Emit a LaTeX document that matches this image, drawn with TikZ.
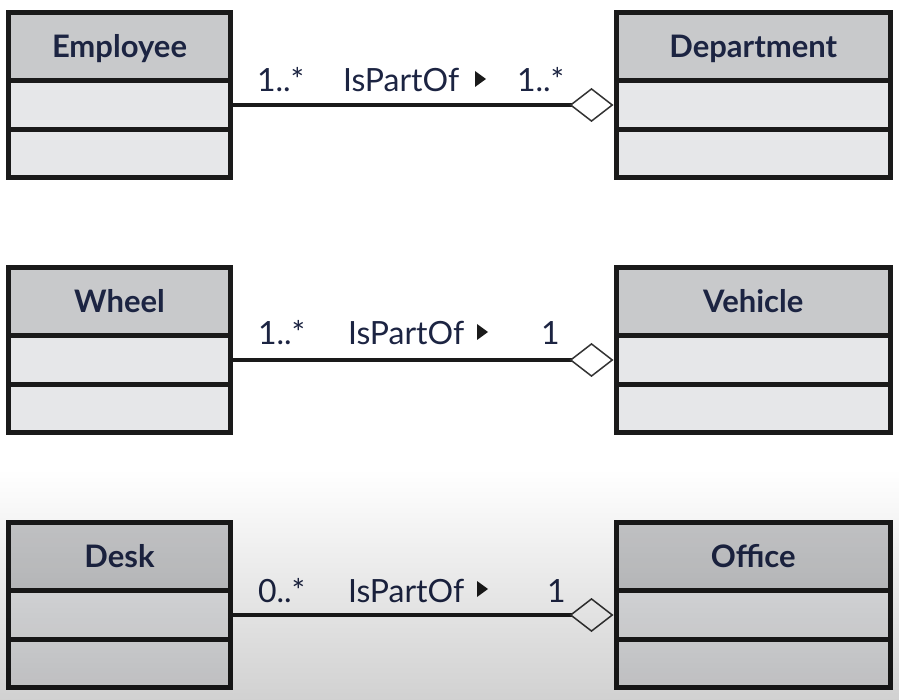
\documentclass[tikz,border=0pt]{standalone}
\usepackage{fontspec}
\setmainfont{Lato}
\usetikzlibrary{arrows.meta,fadings}
\definecolor{hdr}{HTML}{C8C9CB}
\definecolor{cmp}{HTML}{E6E7E9}
\definecolor{ink}{HTML}{1C2442}
\definecolor{edge}{HTML}{1A1A1A}
\definecolor{dia}{HTML}{333333}
\tikzfading[name=fadedown, top color=transparent!100, bottom color=transparent!0]
\tikzset{
  header/.style={draw=edge, line width=5pt, fill=hdr, anchor=north west, inner sep=0pt, outer sep=0pt,
    minimum height=68pt, font=\bfseries\fontsize{31}{31}\selectfont, text=ink, text height=22pt, text depth=0pt},
  comp/.style={draw=edge, line width=5pt, fill=cmp, anchor=north west, inner sep=0pt, outer sep=0pt},
  lbl/.style={anchor=base west, inner sep=0pt, outer sep=0pt, font=\fontsize{32}{32}\selectfont, text=ink},
  assoc/.style={draw=edge, line width=3.5pt, shorten >=2.5pt,
    -{Diamond[fill=white, color=dia, length=44pt, width=34pt, line width'=1.5pt]}},
  rdir/.style={fill=edge}
}
\begin{document}
\begin{tikzpicture}[x=1pt,y=1pt]
\useasboundingbox (0,0) rectangle (900,-700);
\fill[white] (0,0) rectangle (900,-700);

% Row 1
\node[header, minimum width=222pt] (emp) at (8.5,-12.5) {Employee};
\node[comp, minimum width=222pt, minimum height=49pt] (emp1) at (8.5,-80.5) {};
\node[comp, minimum width=222pt, minimum height=48pt] (emp2) at (8.5,-129.5) {};
\node[header, minimum width=274.5pt] (dep) at (616,-12.5) {Department};
\node[comp, minimum width=274.5pt, minimum height=49pt] (dep1) at (616,-80.5) {};
\node[comp, minimum width=274.5pt, minimum height=48pt] (dep2) at (616,-129.5) {};
\draw[assoc] (emp1.east) -- (dep1.west);
\node[lbl] (m1a) at (257,-92) {1..*};
\node[lbl] (r1) at (343,-92) {IsPartOf};
\fill[rdir] (475,-71) -- (486,-79) -- (475,-87) -- cycle;
\node[lbl] (m1b) at (517,-92) {1..*};

% Row 2
\node[header, minimum width=222pt] (whl) at (8.5,-267.5) {Wheel};
\node[comp, minimum width=222pt, minimum height=49pt] (whl1) at (8.5,-335.5) {};
\node[comp, minimum width=222pt, minimum height=48pt] (whl2) at (8.5,-384.5) {};
\node[header, minimum width=274.5pt] (veh) at (616,-267.5) {Vehicle};
\node[comp, minimum width=274.5pt, minimum height=49pt] (veh1) at (616,-335.5) {};
\node[comp, minimum width=274.5pt, minimum height=48pt] (veh2) at (616,-384.5) {};
\draw[assoc] (whl1.east) -- (veh1.west);
\node[lbl] (m2a) at (258,-345) {1..*};
\node[lbl] (r2) at (348,-345) {IsPartOf};
\fill[rdir] (477,-324) -- (488,-332) -- (477,-340) -- cycle;
\node[lbl] (m2b) at (541,-345) {1};

% Row 3
\node[header, minimum width=222pt] (dsk) at (8.5,-522.5) {Desk};
\node[comp, minimum width=222pt, minimum height=49pt] (dsk1) at (8.5,-590.5) {};
\node[comp, minimum width=222pt, minimum height=48pt] (dsk2) at (8.5,-639.5) {};
\node[header, minimum width=274.5pt] (off) at (616,-522.5) {Office};
\node[comp, minimum width=274.5pt, minimum height=49pt] (off1) at (616,-590.5) {};
\node[comp, minimum width=274.5pt, minimum height=48pt] (off2) at (616,-639.5) {};
\draw[assoc] (dsk1.east) -- (off1.west);
\node[lbl] (m3a) at (258,-602) {0..*};
\node[lbl] (r3) at (348,-602) {IsPartOf};
\fill[rdir] (477,-581) -- (488,-589) -- (477,-597) -- cycle;
\node[lbl] (m3b) at (547,-602) {1};

% bottom darkening
\fill[black, opacity=0.18, path fading=fadedown] (0,-470) rectangle (900,-700);
\end{tikzpicture}
\end{document}
